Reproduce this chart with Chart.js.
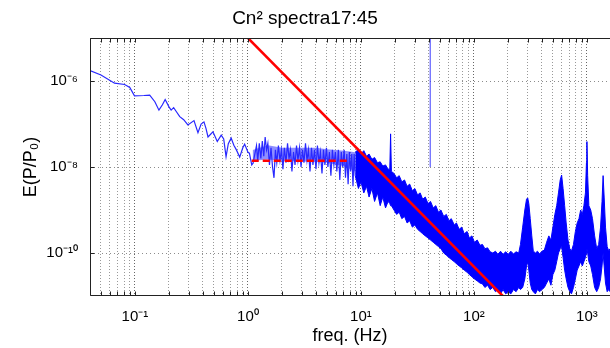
<!DOCTYPE html>
<html>
<head>
<meta charset="utf-8">
<title>Cn² spectra</title>
<script src="https://cdn.jsdelivr.net/npm/chart.js@4.4.1/dist/chart.umd.min.js"></script>
<style>
  body { margin: 0; background: #fff; }
  canvas { display: block; }
</style>
</head>
<body>
<canvas id="grafica" width="610" height="348"></canvas>
<script>
// low frequency part, a single trace (Hz, E(P/P0))
const lowFreq = [0.04, 0.05, 0.066, 0.081, 0.09, 0.099, 0.12, 0.135, 0.15, 0.163, 0.175, 0.185, 0.2, 0.209, 0.22, 0.232,
  0.249, 0.27, 0.294, 0.333, 0.361, 0.385, 0.408, 0.425, 0.443, 0.49, 0.535, 0.58, 0.61, 0.64, 0.67, 0.71, 0.75, 0.79,
  0.845, 0.9, 0.935, 1.0, 1.03, 1.08, 1.11,
  1.15, 1.19, 1.22, 1.26, 1.3, 1.34, 1.38, 1.42, 1.46, 1.5, 1.55, 1.6, 1.65, 1.7, 1.75, 1.8, 1.86, 1.92, 1.98, 2.04,
  2.1, 2.17, 2.24, 2.31, 2.38, 2.45, 2.53, 2.61, 2.69, 2.77, 2.86, 2.95, 3.04, 3.13, 3.23, 3.33, 3.43, 3.54, 3.65, 3.76,
  3.88, 4.0, 4.12, 4.25, 4.38, 4.52, 4.66, 4.8, 4.95, 5.1, 5.26, 5.42, 5.59, 5.76, 5.94, 6.12, 6.31, 6.5, 6.7, 6.9,
  7.1, 7.3, 7.5, 7.7, 7.9, 8.1, 8.3, 8.5, 8.7, 8.9];
const lowPsd = [1.74e-6, 1.38e-6, 8.9e-7, 8.3e-7, 7.1e-7, 4.5e-7, 4.6e-7, 4.7e-7, 3.3e-7, 2.1e-7, 2.8e-7, 3.7e-7, 2.5e-7, 2.1e-7, 2.4e-7, 1.95e-7,
  1.48e-7, 1.26e-7, 9.5e-8, 1.2e-7, 6.3e-8, 1.0e-7, 1.12e-7, 7.9e-8, 5.0e-8, 6.6e-8, 3.9e-8, 5.5e-8, 4.5e-8, 1.74e-8, 3.5e-8, 4.7e-8, 3.2e-8, 2.5e-8,
  1.7e-8, 2.8e-8, 3.4e-8, 2.2e-8, 2.1e-8, 1.12e-8, 1.23e-8,
  2.0e-8, 3.16e-8, 1.41e-8, 3.55e-8, 1.58e-8, 4.0e-8, 1.78e-8, 5.0e-8, 2.5e-8, 3.55e-8, 1.12e-8, 2.8e-8, 1.0e-8, 5.6e-9, 2.5e-8, 1.26e-8, 3.16e-8, 1.41e-8, 2.5e-8, 8.9e-9,
  2.8e-8, 1.26e-8, 3.55e-8, 1.58e-8, 2.5e-8, 7.9e-9, 2.24e-8, 1.12e-8, 3.16e-8, 1.41e-8, 2.8e-8, 1.0e-8, 2.5e-8, 1.26e-8, 3.55e-8, 1.41e-8, 2.5e-8, 7.9e-9, 2.8e-8, 1.12e-8,
  2.5e-8, 8.9e-9, 3.16e-8, 1.26e-8, 2.24e-8, 7.1e-9, 2.5e-8, 1.12e-8, 2.8e-8, 1.0e-8, 2.24e-8, 6.3e-9, 2.5e-8, 1.12e-8, 2.24e-8, 7.9e-9, 2.5e-8, 5.0e-9, 2.24e-8, 1.0e-8,
  2.5e-8, 5.6e-9, 2.0e-8, 4.0e-9, 2.24e-8, 7.9e-9, 2.0e-8, 3.55e-9, 2.0e-8, 6.3e-9];

// core of the noisy trace between 1 and 9 Hz (lighter band)
const midFreq = [1.1, 1.5, 2, 3, 4, 5, 6, 7, 8, 8.9];
const midUpper = [2.5e-8, 3.2e-8, 2.8e-8, 2.8e-8, 2.8e-8, 2.6e-8, 2.5e-8, 2.4e-8, 2.3e-8, 2.2e-8];
const midLower = [1.4e-8, 1.5e-8, 1.4e-8, 1.35e-8, 1.3e-8, 1.25e-8, 1.15e-8, 1.05e-8, 9.0e-9, 8.0e-9];

// dense noisy part above ~9 Hz, drawn as a band between its upper and lower envelope
const bandFreq = [8.9, 9.5, 10, 10.6, 11.2, 11.8, 12.5, 13.2, 14, 14.8, 15.6, 16.5, 17.4, 18.0, 18.3, 18.6, 19.6, 20.7, 21.8, 23,
  24.3, 25.6, 27, 28.5, 30, 31.7, 33.4, 35.2, 37.1, 39.2, 41.3, 43.6, 46, 48.5, 51, 54, 57, 60, 63, 67,
  70, 74, 78, 82, 87, 91, 96, 101, 107, 113, 119, 125, 132, 139, 147, 155, 163, 172, 181, 191,
  201, 212, 224, 236, 249, 258, 270, 282, 292, 299, 306, 315, 325, 335, 350, 365, 380, 400, 420, 440,
  460, 480, 500, 520, 540, 560, 580, 597, 615, 635, 655, 680, 705, 730, 760, 790, 820, 850, 880, 910,
  940, 970, 990, 1000, 1015, 1040, 1080, 1120, 1170, 1220, 1270, 1320, 1360, 1390, 1420, 1460, 1510, 1560, 1600];
const bandUpper = [2.24e-8, 2.51e-8, 2.0e-8, 2.4e-8, 1.78e-8, 2.0e-8, 1.51e-8, 1.66e-8, 1.26e-8, 1.32e-8, 1.05e-8, 1.12e-8, 8.9e-9, 8.9e-9, 5.9e-8, 7.9e-9, 7.1e-9, 5.6e-9, 6.3e-9, 4.5e-9,
  5.0e-9, 3.55e-9, 4.0e-9, 2.8e-9, 3.16e-9, 2.24e-9, 2.5e-9, 1.78e-9, 2.0e-9, 1.41e-9, 1.58e-9, 1.12e-9, 1.26e-9, 8.9e-10, 1.0e-9, 7.1e-10, 7.9e-10, 5.6e-10, 6.3e-10, 4.5e-10,
  5.0e-10, 3.55e-10, 4.0e-10, 2.8e-10, 3.16e-10, 2.24e-10, 2.5e-10, 1.78e-10, 2.0e-10, 1.51e-10, 1.58e-10, 1.26e-10, 1.32e-10, 1.07e-10, 1.0e-10, 1.1e-10, 9.3e-11, 1.1e-10, 9.3e-11, 1.07e-10,
  9.3e-11, 1.1e-10, 9.5e-11, 1.07e-10, 1.0e-10, 1.58e-10, 4.0e-10, 1.0e-9, 1.78e-9, 1.91e-9, 1.41e-9, 6.3e-10, 2.5e-10, 1.12e-10, 1.0e-10, 1.1e-10, 9.5e-11, 1.1e-10, 1.17e-10, 1.78e-10,
  2.5e-10, 2.0e-10, 4.0e-10, 7.9e-10, 1.26e-9, 2.5e-9, 5.0e-9, 6.5e-9, 3.16e-9, 1.26e-9, 5.0e-10, 2.0e-10, 1.26e-10, 1.12e-10, 1.58e-10, 3.16e-10, 5.0e-10, 6.3e-10, 1.0e-9, 7.9e-10,
  1.26e-9, 2.5e-9, 1.26e-8, 3.9e-8, 6.3e-9, 1.26e-9, 1.0e-9, 6.3e-10, 2.5e-10, 1.26e-10, 1.58e-10, 4.0e-10, 1.58e-9, 6.3e-9, 2.0e-9, 4.0e-10, 1.41e-10, 1.12e-10, 1.26e-10];
const bandLower = [6.3e-9, 3.16e-9, 4.5e-9, 2.5e-9, 3.55e-9, 2.0e-9, 3.16e-9, 1.58e-9, 2.5e-9, 1.26e-9, 2.0e-9, 1.12e-9, 1.58e-9, 1.41e-9, 1.26e-9, 1.26e-9, 1.0e-9, 7.9e-10, 8.9e-10, 6.3e-10,
  7.1e-10, 5.0e-10, 5.6e-10, 4.0e-10, 4.5e-10, 3.55e-10, 3.16e-10, 2.8e-10, 2.5e-10, 2.24e-10, 2.0e-10, 1.78e-10, 1.58e-10, 1.41e-10, 1.26e-10, 1.0e-10, 8.9e-11, 7.9e-11, 7.1e-11, 6.3e-11,
  5.6e-11, 5.0e-11, 4.5e-11, 4.0e-11, 3.55e-11, 3.16e-11, 2.8e-11, 2.5e-11, 2.24e-11, 2.0e-11, 1.91e-11, 1.58e-11, 1.78e-11, 1.41e-11, 1.58e-11, 1.26e-11, 1.41e-11, 1.12e-11, 1.41e-11, 1.12e-11,
  1.26e-11, 1.12e-11, 1.41e-11, 1.26e-11, 1.58e-11, 1.41e-11, 1.58e-11, 2.5e-11, 5.0e-11, 6.3e-11, 4.0e-11, 2.0e-11, 1.41e-11, 1.26e-11, 1.12e-11, 1.41e-11, 1.26e-11, 1.41e-11, 1.58e-11, 2.0e-11,
  2.5e-11, 1.78e-11, 3.16e-11, 4.0e-11, 6.3e-11, 1.0e-10, 1.26e-10, 1.41e-10, 7.9e-11, 4.0e-11, 2.5e-11, 1.58e-11, 1.26e-11, 1.12e-11, 1.58e-11, 2.5e-11, 4.0e-11, 5.0e-11, 6.3e-11, 5.0e-11,
  6.3e-11, 7.9e-11, 1.0e-10, 1.26e-10, 1.0e-10, 6.3e-11, 5.0e-11, 3.16e-11, 1.58e-11, 1.26e-11, 1.58e-11, 2.5e-11, 5.0e-11, 1.0e-10, 5.0e-11, 2.0e-11, 1.26e-11, 1.41e-11, 1.26e-11];

// narrow line near 41 Hz
const spikeFreq = [41, 41];
const spikePsd = [1.0e-8, 1.0e-5];

// -8/3 power law fit and low frequency plateau
const fitFreq = [1.0, 180];
const fitPsd = [1.0e-5, 1.0e-11];
const plateauFreq = [1.08, 7.7];
const plateauPsd = [1.4e-8, 1.4e-8];

const xTickValues = [0.1, 1, 10, 100, 1000];
const xTickLabels = ['10⁻¹', '10⁰', '10¹', '10²', '10³'];
const yTickValues = [1e-10, 1e-8, 1e-6];
const yTickLabels = ['10⁻¹⁰', '10⁻⁸', '10⁻⁶'];

const fuente = "'Liberation Sans', Arial, sans-serif";
Chart.defaults.font.family = fuente;
Chart.defaults.color = '#000';

// vertical grid lines at 1..9 x 10^k inside the x range
const xGrid = [];
for (let e = -2; e <= 3; e++) {
  for (let m = 1; m <= 9; m++) {
    const v = +(m * Math.pow(10, e)).toPrecision(3);
    if (v >= 0.04 && v <= 1600) xGrid.push(v);
  }
}

function puntos(xs, ys) {
  return xs.map((x, i) => ({ x: x, y: ys[i] }));
}

function buscar(valores, v) {
  return valores.findIndex(t => Math.abs(v / t - 1) < 1e-6);
}

// box and inward tick marks, like the original figure
const marco = {
  id: 'marco',
  afterDatasetsDraw(chart) {
    const { ctx, chartArea: a, scales } = chart;
    const l = Math.round(a.left) + 0.5, t = Math.round(a.top) + 0.5, b = Math.round(a.bottom) - 0.5;
    ctx.save();
    ctx.strokeStyle = '#222';
    ctx.lineWidth = 1;
    ctx.beginPath();
    ctx.moveTo(a.right, t);
    ctx.lineTo(l, t);
    ctx.lineTo(l, b);
    ctx.lineTo(a.right, b);
    xGrid.forEach(v => {
      const px = Math.round(scales.x.getPixelForValue(v)) + 0.5;
      ctx.moveTo(px, b); ctx.lineTo(px, b - 4);
      ctx.moveTo(px, t); ctx.lineTo(px, t + 4);
    });
    yTickValues.forEach(v => {
      const py = Math.round(scales.y.getPixelForValue(v)) + 0.5;
      ctx.moveTo(l, py); ctx.lineTo(l + 4, py);
    });
    ctx.stroke();
    ctx.restore();
  }
};

const ctx1 = document.getElementById('grafica').getContext('2d');
const chart1 = new Chart(ctx1, {
  type: 'line',
  data: {
    datasets: [
      {
        label: 'fit',
        data: puntos(fitFreq, fitPsd),
        borderColor: 'rgb(255, 0, 0)',
        borderWidth: 2.5
      },
      {
        label: 'plateau',
        data: puntos(plateauFreq, plateauPsd),
        borderColor: 'rgb(255, 0, 0)',
        borderWidth: 2.5,
        borderDash: [7, 4]
      },
      {
        label: 'spike',
        data: puntos(spikeFreq, spikePsd),
        borderColor: 'rgb(60, 60, 255)',
        borderWidth: 1
      },
      {
        label: 'low',
        data: puntos(lowFreq, lowPsd),
        borderColor: 'rgb(40, 40, 255)',
        borderWidth: 1.2
      },
      {
        label: 'mid upper',
        data: puntos(midFreq, midUpper),
        borderWidth: 0
      },
      {
        label: 'mid lower',
        data: puntos(midFreq, midLower),
        borderWidth: 0,
        backgroundColor: 'rgba(30, 30, 255, 0.5)',
        fill: '-1'
      },
      {
        label: 'upper',
        data: puntos(bandFreq, bandUpper),
        borderColor: 'rgb(0, 0, 255)',
        borderWidth: 1
      },
      {
        label: 'lower',
        data: puntos(bandFreq, bandLower),
        borderColor: 'rgb(0, 0, 255)',
        borderWidth: 1,
        backgroundColor: 'rgb(0, 0, 255)',
        fill: '-1'
      }
    ]
  },
  options: {
    responsive: false,
    animation: false,
    events: [],
    elements: {
      point: { radius: 0 },
      line: { tension: 0 }
    },
    layout: { padding: 0 },
    plugins: {
      legend: { display: false },
      tooltip: { enabled: false },
      title: {
        display: true,
        text: 'Cn² spectra17:45',
        color: '#000',
        font: { size: 19, weight: 'normal' },
        padding: { top: 7, bottom: 8.2 }
      }
    },
    scales: {
      x: {
        type: 'logarithmic',
        min: 0.04,
        max: 1600,
        afterBuildTicks: s => { s.ticks = xGrid.map(v => ({ value: v })); },
        afterFit: s => { s.height = 52; },
        ticks: {
          autoSkip: false,
          maxRotation: 0,
          minRotation: 0,
          padding: 12,
          font: { size: 15 },
          callback: value => {
            const i = buscar(xTickValues, value);
            return i >= 0 ? xTickLabels[i] : '';
          }
        },
        grid: {
          drawTicks: false,
          color: c => (c.tick && buscar(xTickValues, c.tick.value) >= 0) ? 'rgba(0,0,0,0.6)' : 'rgba(0,0,0,0.4)'
        },
        border: { display: false, dash: [1, 2] },
        title: {
          display: true,
          text: 'freq. (Hz)',
          font: { size: 18 },
          padding: { top: 0, bottom: 1 }
        }
      },
      y: {
        type: 'logarithmic',
        min: 1e-11,
        max: 1e-5,
        afterBuildTicks: s => { s.ticks = yTickValues.map(v => ({ value: v })); },
        afterFit: s => { s.width = 90; },
        ticks: {
          autoSkip: false,
          padding: 12,
          font: { size: 15 },
          callback: value => {
            const i = buscar(yTickValues, value);
            return i >= 0 ? yTickLabels[i] : '';
          }
        },
        grid: {
          drawTicks: false,
          color: 'rgba(0,0,0,0.45)'
        },
        border: { display: false, dash: [1, 3] },
        title: {
          display: true,
          text: 'E(P/P₀)',
          font: { size: 18 },
          padding: { top: 20, bottom: 0 }
        }
      }
    }
  },
  plugins: [marco]
});
</script>
</body>
</html>
